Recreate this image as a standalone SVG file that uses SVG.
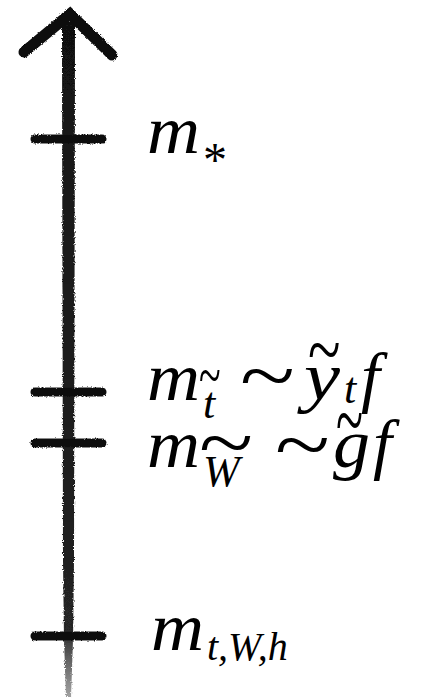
<svg xmlns="http://www.w3.org/2000/svg" width="435" height="699" viewBox="0 0 435 699">
<defs>
<filter id="rough" filterUnits="userSpaceOnUse" x="0" y="0" width="435" height="699">
<feTurbulence type="fractalNoise" baseFrequency="0.9" numOctaves="2" seed="3" result="n"/>
<feDisplacementMap in="SourceGraphic" in2="n" scale="3" xChannelSelector="R" yChannelSelector="G"/>
</filter>
<linearGradient id="fade" x1="0" y1="0" x2="0" y2="1">
<stop offset="0" stop-color="#111" stop-opacity="1"/>
<stop offset="0.9" stop-color="#1a1a1a" stop-opacity="0.95"/>
<stop offset="1" stop-color="#444" stop-opacity="0.5"/>
</linearGradient>
<style>
.mi{font-family:"Liberation Serif","Times New Roman",serif;font-style:italic;fill:#000}
.rm{font-family:"Liberation Serif","Times New Roman",serif;fill:#000}
.tick{fill:none;stroke:#111;stroke-linecap:round}
</style>
</defs>
<rect width="435" height="699" fill="#fff"/>
<g id="connectors" filter="url(#rough)">
<path id="axis" d="M62,22 L75,22 L74.5,300 L74,560 L73,640 L71,697 L66,697 L64,640 L63,560 L62.5,300 Z" fill="url(#fade)"/>
<polyline id="arrowhead" points="24,52 70,14 112,55" fill="none" stroke="#111" stroke-width="11" stroke-linecap="round" stroke-linejoin="miter"/>
</g>
<g id="node-mstar">
<path class="tick" filter="url(#rough)" d="M35,139 L102,139" stroke-width="9"/>
<text class="mi" x="147" y="153" font-size="68" textLength="53" lengthAdjust="spacingAndGlyphs">m</text>
<text class="rm" x="203" y="176" font-size="48">*</text>
</g>
<g id="node-mt">
<path class="tick" filter="url(#rough)" d="M35,392 L102,392" stroke-width="9"/>
<text class="mi" x="147" y="400" font-size="68" textLength="53" lengthAdjust="spacingAndGlyphs">m</text>
<text class="mi" x="203" y="418" font-size="44">t</text>
<text class="rm" transform="translate(199,397) scale(1.0,1.6)" font-size="40">~</text>
<text class="rm" transform="translate(240,403) scale(1.45,1.15)" font-size="70">~</text>
<text class="mi" x="304" y="400" font-size="68" textLength="36" lengthAdjust="spacingAndGlyphs">y</text>
<text class="rm" transform="translate(308,377) scale(1.5,2.0)" font-size="40">~</text>
<text class="mi" x="344" y="403" font-size="44">t</text>
<text class="mi" x="361" y="400" font-size="68">f</text>
</g>
<g id="node-mW">
<path class="tick" filter="url(#rough)" d="M35,443 L102,443" stroke-width="9"/>
<text class="mi" x="147" y="467" font-size="68" textLength="53" lengthAdjust="spacingAndGlyphs">m</text>
<text class="mi" x="203" y="486" font-size="44">W</text>
<text class="rm" transform="translate(199,470) scale(2.5,2.0)" font-size="40">~</text>
<text class="rm" transform="translate(275,472) scale(1.45,1.15)" font-size="70">~</text>
<text class="mi" x="333" y="467" font-size="68" textLength="37" lengthAdjust="spacingAndGlyphs">g</text>
<text class="rm" transform="translate(336,450) scale(1.25,2.2)" font-size="40">~</text>
<text class="mi" x="373" y="467" font-size="68">f</text>
</g>
<g id="node-mtWh">
<path class="tick" filter="url(#rough)" d="M35,636 L102,636" stroke-width="9"/>
<text class="mi" x="151" y="650" font-size="68" textLength="53" lengthAdjust="spacingAndGlyphs">m</text>
<text class="mi" x="207" y="660" font-size="40">t,W,h</text>
</g>
</svg>
